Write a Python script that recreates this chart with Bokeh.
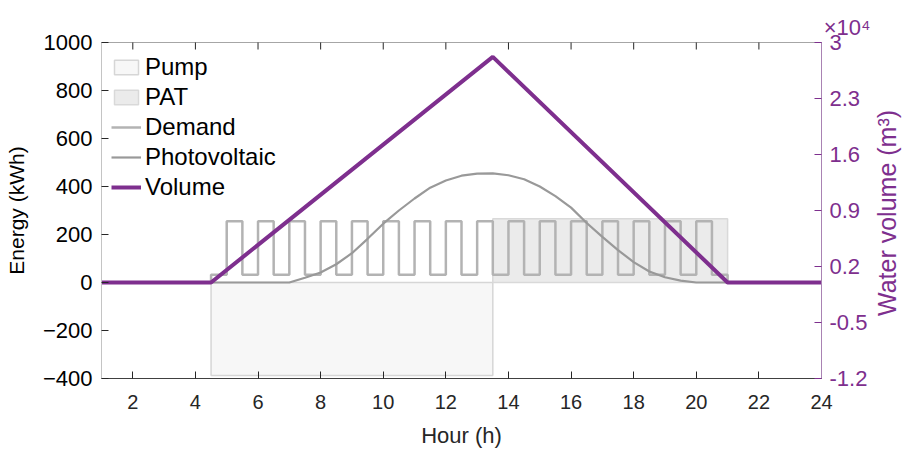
import math
from bokeh.plotting import figure
from bokeh.models import Range1d, LinearAxis, FixedTicker, Legend, LegendItem, Title
from bokeh.embed import file_html
from bokeh.resources import INLINE

FONT = "Liberation Sans"
PURPLE = "#7E2F8E"

# ---- data ----
hour_ticks = [2, 4, 6, 8, 10, 12, 14, 16, 18, 20, 22, 24]
energy_ticks = [-400, -200, 0, 200, 400, 600, 800, 1000]
volume_ticks = [-12000, -5000, 2000, 9000, 16000, 23000, 30000]
volume_tick_labels = ["-1.2", "-0.5", "0.2", "0.9", "1.6", "2.3", "3"]

pump_start = [4.5]
pump_end = [13.5]
pump_energy = [-387]

pat_start = [13.5]
pat_end = [21.0]
pat_energy = [266]

demand_hour = [1.0, 4.5, 5.0, 5.5, 6.0, 6.5, 7.0, 7.5, 8.0, 8.5, 9.0, 9.5,
               10.0, 10.5, 11.0, 11.5, 12.0, 12.5, 13.0, 13.5, 14.0, 14.5,
               15.0, 15.5, 16.0, 16.5, 17.0, 17.5, 18.0, 18.5, 19.0, 19.5,
               20.0, 20.5, 21.0, 24.0]
demand_kwh = [0, 32, 255, 32, 255, 32, 255, 32, 255, 32, 255, 32,
              255, 32, 255, 32, 255, 32, 255, 32, 255, 32,
              255, 32, 255, 32, 255, 32, 255, 32, 255, 32,
              255, 32, 0, 0]

pv_hour = [1.0, 7.0, 7.5, 8.0, 8.5, 9.0, 9.5, 10.0, 10.5, 11.0, 11.5, 12.0,
           12.5, 13.0, 13.5, 14.0, 14.5, 15.0, 15.5, 16.0, 16.5, 17.0, 17.5,
           18.0, 18.5, 19.0, 19.5, 20.0, 24.0]
pv_kwh = [0, 0, 20, 42, 76, 122, 182, 245, 300, 350, 395, 425,
          445, 454, 455, 447, 430, 400, 360, 312, 248, 190, 135,
          85, 46, 22, 8, 0, 0]

volume_hour = [1.0, 4.5, 13.5, 21.0, 24.0]
volume_m3 = [0, 0, 28200, 0, 0]

# ---- figure ----
p = figure(frame_width=720, frame_height=336,
           x_range=Range1d(1, 24), y_range=Range1d(-400, 1000),
           output_backend="svg", toolbar_location=None,
           min_border_left=101, min_border_right=85,
           min_border_top=42, min_border_bottom=71,
           background_fill_color="white", border_fill_color="white")
p.outline_line_color = "#a6a6a6"
p.outline_line_width = 1
p.xgrid.visible = False
p.ygrid.visible = False
p.extra_y_ranges = {"vol": Range1d(-12000, 30000)}

r_pump = p.quad(left=pump_start, right=pump_end, top=[0] * len(pump_energy),
                bottom=pump_energy, fill_color="#f7f7f7",
                line_color="#d6d6d6", line_width=1.5)
r_pat = p.quad(left=pat_start, right=pat_end, bottom=[0] * len(pat_energy),
               top=pat_energy, fill_color="#ebebeb",
               line_color="#d9d9d9", line_width=1.5)
r_dem = p.step(demand_hour, demand_kwh, mode="after",
               line_color="#b3b3b3", line_width=2.5)
r_pv = p.line(pv_hour, pv_kwh, line_color="#999999", line_width=2.2)
r_vol = p.line(volume_hour, volume_m3, y_range_name="vol",
               line_color=PURPLE, line_width=4)

# top-edge tick marks (box on), half of each dash is clipped by the frame
p.scatter(hour_ticks, [energy_ticks[-1]] * len(hour_ticks), marker="dash",
          angle=math.pi / 2, size=14, line_color="#262626", line_width=1)

# ---- axes ----
xa = p.xaxis[0]
xa.ticker = FixedTicker(ticks=hour_ticks)
xa.axis_label = "Hour (h)"
xa.axis_line_color = "#404040"
xa.major_tick_line_color = "#262626"
xa.major_tick_in = 7
xa.major_tick_out = 0
xa.minor_tick_line_color = None
xa.major_label_text_font = FONT
xa.major_label_text_font_size = "20px"
xa.major_label_text_color = "#262626"
xa.major_label_standoff = 16
xa.axis_label_text_font = FONT
xa.axis_label_text_font_size = "22px"
xa.axis_label_text_font_style = "normal"
xa.axis_label_text_color = "#262626"
xa.axis_label_standoff = 11

ya = p.yaxis[0]
ya.ticker = FixedTicker(ticks=energy_ticks)
ya.axis_label = "Energy (kWh)"
ya.axis_line_color = "#c4c4c4"
ya.major_tick_line_color = "#262626"
ya.major_tick_in = 7
ya.major_tick_out = 0
ya.minor_tick_line_color = None
ya.major_label_text_font = FONT
ya.major_label_text_font_size = "22px"
ya.major_label_text_color = "#000000"
ya.major_label_standoff = 9
ya.axis_label_text_font = FONT
ya.axis_label_text_font_size = "21px"
ya.axis_label_text_font_style = "normal"
ya.axis_label_text_color = "#000000"
ya.axis_label_standoff = 12

ra = LinearAxis(y_range_name="vol", ticker=FixedTicker(ticks=volume_ticks))
ra.major_label_overrides = {t: s for t, s in zip(volume_ticks, volume_tick_labels)}
# reads bottom-to-top like the reference; anchored at the bottom and
# lifted by leading no-break spaces so it sits centred on the axis
ra.axis_label = "\u00a0" * 9 + "Water volume (m³)"
ra.axis_label_orientation = math.pi / 2
ra.axis_label_align = "start"
ra.axis_line_color = "#a983b3"
ra.major_tick_line_color = PURPLE
ra.major_tick_in = 7
ra.major_tick_out = 0
ra.minor_tick_line_color = None
ra.major_label_text_font = FONT
ra.major_label_text_font_size = "22px"
ra.major_label_text_color = PURPLE
ra.major_label_standoff = 8
ra.axis_label_text_font = FONT
ra.axis_label_text_font_size = "25px"
ra.axis_label_text_font_style = "normal"
ra.axis_label_text_color = PURPLE
ra.axis_label_standoff = 17
p.add_layout(ra, "right")

p.add_layout(Title(text="×10⁴", align="right", offset=-49, standoff=5,
                   text_font=FONT, text_font_size="22px",
                   text_font_style="normal", text_color=PURPLE), "above")

legend = Legend(items=[
    LegendItem(label="Pump", renderers=[r_pump]),
    LegendItem(label="PAT", renderers=[r_pat]),
    LegendItem(label="Demand", renderers=[r_dem]),
    LegendItem(label="Photovoltaic", renderers=[r_pv]),
    LegendItem(label="Volume", renderers=[r_vol]),
], location="top_left", margin=10, padding=9, spacing=0,
   label_height=30, glyph_height=18, glyph_width=30, label_standoff=4,
   label_text_font=FONT, label_text_font_size="24px",
   label_text_color="#000000",
   background_fill_alpha=0, border_line_color=None)
p.add_layout(legend)

open("out.html", "w").write(file_html(p, INLINE))
